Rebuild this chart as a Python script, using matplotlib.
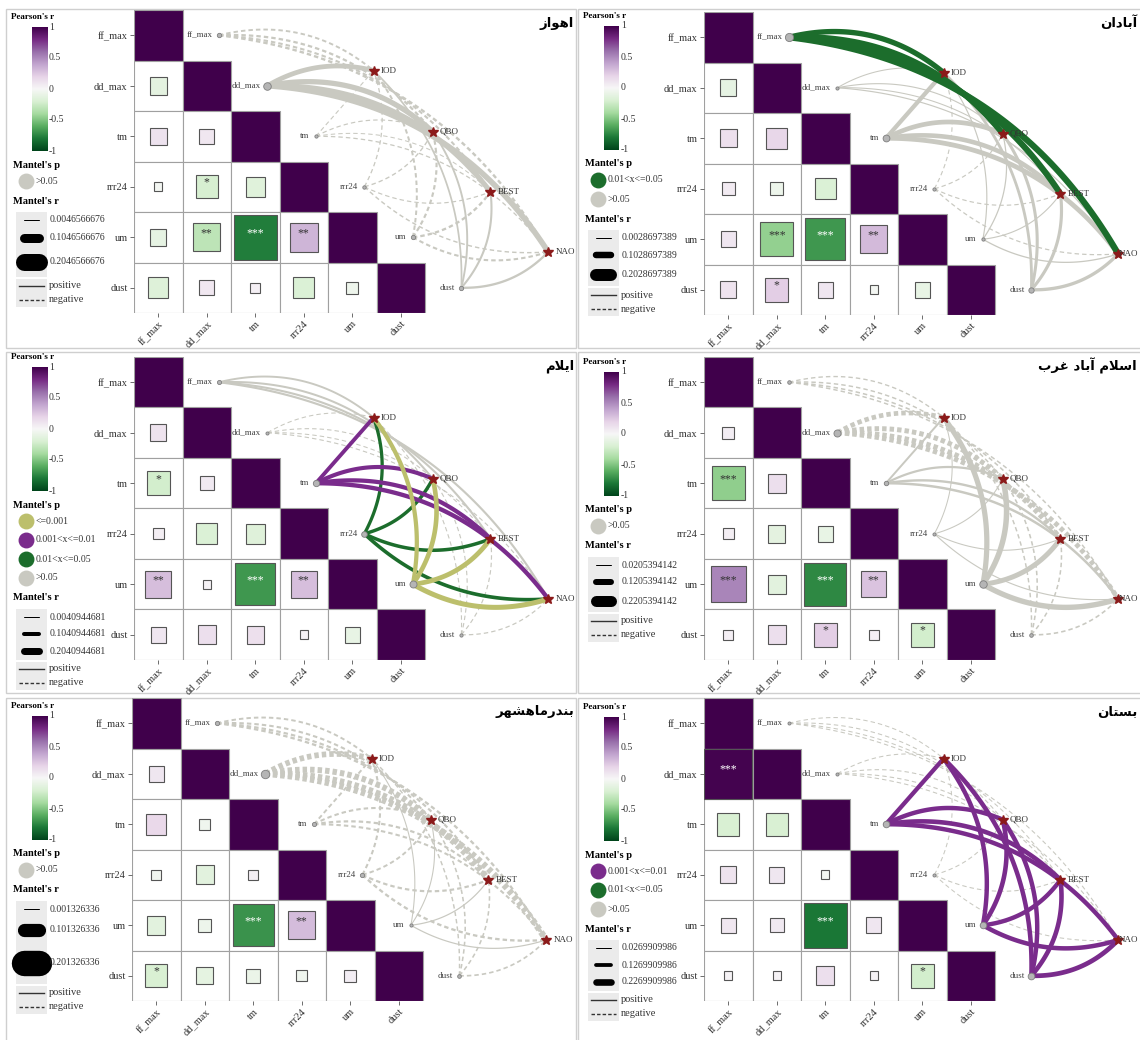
import numpy as np
import matplotlib
matplotlib.use("Agg")
import matplotlib.pyplot as plt
from matplotlib.patches import Rectangle

plt.rcParams["font.family"] = ["Liberation Serif", "DejaVu Sans"]
plt.rcParams["lines.scale_dashes"] = False

FIG_W, FIG_H = 1140, 1040
PT = 0.72  # points per pixel at 100 dpi

ENV = ["ff_max", "dd_max", "tm", "rrr24", "um", "dust"]
INDICES = ["IOD", "QBO", "BEST", "NAO"]
P_LABELS = [">0.05", "0.01<x<=0.05", "0.001<x<=0.01", "<=0.001"]
P_COLORS = ["#c9c9c1", "#1c6d2c", "#7a2c8c", "#bcbf6c"]
CB_TICKS = [1, 0.5, 0, -0.5, -1]

# ---- station data -------------------------------------------------------
# correlation: lower triangle, row by row (dd_max|ff_max, tm|ff_max, tm|dd_max, ...)
AHVAZ_NAME = "اهواز"
AHVAZ_CORR = [-0.13, 0.12, 0.09, -0.03, -0.21, -0.15, -0.11, -0.31, -0.78, 0.33,
              -0.17, 0.09, 0.04, -0.18, -0.06]
AHVAZ_SIG = ["", "", "", "", "*", "", "", "**", "***", "**", "", "", "", "", ""]
AHVAZ_MANTEL_R = [[-0.016, -0.020, -0.018, -0.022],
                  [0.052, 0.058, 0.056, 0.062],
                  [-0.006, -0.007, -0.005, -0.008],
                  [-0.008, -0.009, -0.007, -0.010],
                  [-0.017, -0.019, -0.021, -0.018],
                  [0.014, 0.016, 0.018, 0.021]]
AHVAZ_MANTEL_P = [[0, 0, 0, 0]] * 6
AHVAZ_P_SHOWN = [0]
AHVAZ_R_BREAKS = [0.0046566676, 0.1046566676, 0.2046566676]

ABADAN_NAME = "آبادان"
ABADAN_CORR = [-0.11, 0.13, 0.18, 0.07, -0.07, -0.18, 0.10, -0.45, -0.68, 0.31,
               0.11, 0.22, 0.10, -0.03, -0.10]
ABADAN_SIG = ["", "", "", "", "", "", "", "***", "***", "**", "", "*", "", "", ""]
ABADAN_MANTEL_R = [[0.082, 0.090, 0.095, 0.098],
                   [0.004, 0.005, 0.004, 0.006],
                   [0.062, 0.070, 0.068, 0.072],
                   [-0.005, -0.006, -0.006, -0.007],
                   [0.006, 0.007, 0.005, 0.008],
                   [0.036, 0.040, 0.042, 0.045]]
ABADAN_MANTEL_P = [[1, 1, 1, 1]] + [[0, 0, 0, 0]] * 5
ABADAN_P_SHOWN = [1, 0]
ABADAN_R_BREAKS = [0.0028697389, 0.1028697389, 0.2028697389]

ILAM_NAME = "ایلام"
ILAM_CORR = [0.11, -0.22, 0.08, 0.05, -0.18, -0.16, 0.29, 0.03, -0.68, 0.29,
             0.10, 0.14, 0.13, 0.03, -0.10]
ILAM_SIG = ["", "*", "", "", "", "", "**", "", "***", "**", "", "", "", "", ""]
ILAM_MANTEL_R = [[0.035, 0.038, 0.040, 0.042],
                 [-0.006, -0.007, -0.006, -0.008],
                 [0.100, 0.108, 0.112, 0.115],
                 [0.080, 0.085, 0.088, 0.092],
                 [0.112, 0.125, 0.130, 0.138],
                 [-0.008, -0.009, -0.010, -0.012]]
ILAM_MANTEL_P = [[0, 0, 0, 0], [0, 0, 0, 0], [2, 2, 2, 2],
                 [1, 1, 1, 1], [3, 3, 3, 3], [0, 0, 0, 0]]
ILAM_P_SHOWN = [3, 2, 1, 0]
ILAM_R_BREAKS = [0.0040944681, 0.1040944681, 0.2040944681]

ESLAMABAD_NAME = "اسلام آباد غرب"
ESLAMABAD_CORR = [0.06, -0.46, 0.14, 0.05, -0.13, -0.10, 0.52, -0.14, -0.74, 0.27,
                  0.04, 0.14, 0.22, 0.04, -0.22]
ESLAMABAD_SIG = ["", "***", "", "", "", "", "***", "", "***", "**", "", "", "*", "", "*"]
ESLAMABAD_MANTEL_R = [[-0.028, -0.030, -0.032, -0.030],
                      [-0.095, -0.100, -0.102, -0.098],
                      [0.040, 0.045, 0.048, 0.050],
                      [0.021, 0.022, 0.022, 0.023],
                      [0.105, 0.110, 0.100, 0.108],
                      [-0.030, -0.032, -0.031, -0.033]]
ESLAMABAD_MANTEL_P = [[0, 0, 0, 0]] * 6
ESLAMABAD_P_SHOWN = [0]
ESLAMABAD_R_BREAKS = [0.0205394142, 0.1205394142, 0.2205394142]

MAHSHAHR_NAME = "بندرماهشهر"
MAHSHAHR_CORR = [0.10, 0.17, -0.05, -0.04, -0.14, 0.04, -0.14, -0.07, -0.70, 0.30,
                 -0.20, -0.12, -0.08, -0.05, 0.06]
MAHSHAHR_SIG = ["", "", "", "", "", "", "", "", "***", "**", "*", "", "", "", ""]
MAHSHAHR_MANTEL_R = [[-0.009, -0.010, -0.011, -0.012],
                     [-0.040, -0.042, -0.045, -0.046],
                     [-0.009, -0.010, -0.011, -0.010],
                     [-0.010, -0.009, -0.011, -0.012],
                     [0.002, 0.002, 0.003, 0.003],
                     [-0.005, -0.006, -0.006, -0.007]]
MAHSHAHR_MANTEL_P = [[0, 0, 0, 0]] * 6
MAHSHAHR_P_SHOWN = [0]
MAHSHAHR_R_BREAKS = [0.001326336, 0.101326336, 0.201326336]

BOSTAN_NAME = "بستان"
BOSTAN_CORR = [0.98, -0.20, -0.20, 0.11, 0.10, -0.03, 0.09, 0.08, -0.80, 0.10,
               0.03, 0.03, 0.14, 0.03, -0.22]
BOSTAN_SIG = ["***", "", "", "", "", "", "", "", "***", "", "", "", "", "", "*"]
BOSTAN_MANTEL_R = [[-0.028, -0.029, -0.028, -0.030],
                   [-0.029, -0.030, -0.031, -0.029],
                   [0.145, 0.150, 0.155, 0.150],
                   [-0.028, -0.029, -0.030, -0.028],
                   [0.150, 0.155, 0.148, 0.152],
                   [0.152, 0.150, 0.155, 0.160]]
BOSTAN_MANTEL_P = [[0, 0, 0, 0], [0, 0, 0, 0], [2, 2, 2, 2],
                   [0, 0, 0, 0], [2, 2, 2, 2], [2, 2, 2, 2]]
BOSTAN_P_SHOWN = [2, 1, 0]
BOSTAN_R_BREAKS = [0.0269909986, 0.1269909986, 0.2269909986]

STATIONS = [
    (AHVAZ_NAME, AHVAZ_CORR, AHVAZ_SIG, AHVAZ_MANTEL_R, AHVAZ_MANTEL_P, AHVAZ_P_SHOWN, AHVAZ_R_BREAKS),
    (ABADAN_NAME, ABADAN_CORR, ABADAN_SIG, ABADAN_MANTEL_R, ABADAN_MANTEL_P, ABADAN_P_SHOWN, ABADAN_R_BREAKS),
    (ILAM_NAME, ILAM_CORR, ILAM_SIG, ILAM_MANTEL_R, ILAM_MANTEL_P, ILAM_P_SHOWN, ILAM_R_BREAKS),
    (ESLAMABAD_NAME, ESLAMABAD_CORR, ESLAMABAD_SIG, ESLAMABAD_MANTEL_R, ESLAMABAD_MANTEL_P,
     ESLAMABAD_P_SHOWN, ESLAMABAD_R_BREAKS),
    (MAHSHAHR_NAME, MAHSHAHR_CORR, MAHSHAHR_SIG, MAHSHAHR_MANTEL_R, MAHSHAHR_MANTEL_P,
     MAHSHAHR_P_SHOWN, MAHSHAHR_R_BREAKS),
    (BOSTAN_NAME, BOSTAN_CORR, BOSTAN_SIG, BOSTAN_MANTEL_R, BOSTAN_MANTEL_P, BOSTAN_P_SHOWN, BOSTAN_R_BREAKS),
]

# ---- layout (pixels) ----------------------------------------------------
PANELS = [(6, 9, 570, 339), (578, 9, 570, 339), (6, 352, 570, 341),
          (578, 352, 570, 341), (6, 698, 570, 345), (578, 698, 570, 345)]
GRID_LEFT = [128, 126, 128, 126, 126, 126]
GRID_TOP = [10, 12, 357, 357, 698, 698]
LEGEND_TOP = [8, 7, 5, 10, 8, 9]
WIDTH_SLOPE = [80, 55, 30, 50, 122, 28]   # px of line width per unit Mantel's r
CW, CH = 48.5, 50.5
IDX_X = [4.94, 6.16, 7.35, 8.54]
IDX_Y = [1.2, 2.41, 3.6, 4.79]

cmap = plt.get_cmap("PRGn_r")

# simple Arabic-script shaping (presentation forms, right-to-left)
FORMS = {
    "ا": ("ﺍ", "ﺎ", None, None), "آ": ("ﺁ", "ﺂ", None, None),
    "ب": ("ﺏ", "ﺐ", "ﺑ", "ﺒ"), "ت": ("ﺕ", "ﺖ", "ﺗ", "ﺘ"),
    "د": ("ﺩ", "ﺪ", None, None), "ر": ("ﺭ", "ﺮ", None, None),
    "ز": ("ﺯ", "ﺰ", None, None), "س": ("ﺱ", "ﺲ", "ﺳ", "ﺴ"),
    "ش": ("ﺵ", "ﺶ", "ﺷ", "ﺸ"), "غ": ("ﻍ", "ﻎ", "ﻏ", "ﻐ"),
    "ل": ("ﻝ", "ﻞ", "ﻟ", "ﻠ"), "م": ("ﻡ", "ﻢ", "ﻣ", "ﻤ"),
    "ن": ("ﻥ", "ﻦ", "ﻧ", "ﻨ"), "ه": ("ﻩ", "ﻪ", "ﻫ", "ﻬ"),
    "و": ("ﻭ", "ﻮ", None, None),
    "\u06cc": ("ﻯ", "ﻰ", "ﻳ", "ﻴ"), "\u064a": ("ﻱ", "ﻲ", "ﻳ", "ﻴ"),
    "لا": ("ﻻ", "ﻼ", None, None),
}


def shape_rtl(text):
    chars, i = [], 0
    while i < len(text):
        if text[i] == "ل" and i + 1 < len(text) and text[i + 1] == "ا":
            chars.append("لا")
            i += 2
        else:
            chars.append(text[i])
            i += 1
    out = []
    for k, c in enumerate(chars):
        f = FORMS.get(c)
        if f is None:
            out.append(c)
            continue
        prev = FORMS.get(chars[k - 1]) if k > 0 else None
        nxt = FORMS.get(chars[k + 1]) if k + 1 < len(chars) else None
        jp = prev is not None and prev[2] is not None
        jn = nxt is not None and f[2] is not None
        out.append(f[3] if (jp and jn) else f[1] if jp else f[2] if jn else f[0])
    return "".join(reversed(out))


def frac(x, y, w, h):
    return [x / FIG_W, 1 - (y + h) / FIG_H, w / FIG_W, h / FIG_H]


def width_px(r, breaks, slope):
    return max(0.8, 1 + slope * (abs(r) - breaks[0]))


def draw_matrix(ax, corr, sig):
    k = 0
    for i in range(6):
        for j in range(i + 1):
            fc = cmap(1.0) if i == j else "white"
            ax.add_patch(Rectangle((j, i), 1, 1, fc=fc, ec="#a0a0a0", lw=0.8, zorder=1))
    for i in range(1, 6):
        for j in range(i):
            r, s = corr[k], sig[k]
            k += 1
            side = np.sqrt(abs(r))
            ax.add_patch(Rectangle((j + 0.5 - side / 2, i + 0.5 - side / 2), side, side,
                                   fc=cmap((r + 1) / 2), ec="#555555", lw=0.8, zorder=2))
            if s:
                ax.text(j + 0.5, i + 0.42, s, ha="center", va="center", fontsize=8.5,
                        color="white" if abs(r) > 0.6 else "#333333", zorder=3)
    ax.set_xticks(np.arange(6) + 0.5)
    ax.set_yticks(np.arange(6) + 0.5)
    ax.set_xticklabels(ENV, rotation=45, ha="right", rotation_mode="anchor")
    ax.set_yticklabels(ENV)
    ax.tick_params(length=3, width=0.6, color="#555555", labelsize=7.5, pad=1.5,
                   labelcolor="#333333")


def draw_network(ax, mr, mp, breaks, slope, right_limit):
    env_xy = [(i + 1.75, i + 0.5) for i in range(6)]
    idx_xy = list(zip(IDX_X, IDX_Y))
    order = sorted((mp[i][j], i, j) for i in range(6) for j in range(4))
    node_w = [0.0] * 6
    t = np.linspace(0, 1, 80)[:, None]
    for cat, i, j in order:
        r = mr[i][j]
        w = width_px(r, breaks, slope)
        node_w[i] = max(node_w[i], w)
        p0 = np.array([env_xy[i][0] * CW, env_xy[i][1] * CH])
        p1 = np.array([idx_xy[j][0] * CW, idx_xy[j][1] * CH])
        d = p1 - p0
        if i <= 2:
            # upper nodes bend over the top; steep upward links stay nearly straight
            up = np.degrees(np.arctan2(-d[1], d[0]))
            bend = 0.125 * np.clip(1 - up / 45, 0, 1)
            normal = np.array([d[1], -d[0]])
        else:
            bend = 0.11
            normal = np.array([-d[1], d[0]])
        ctrl = (p0 + p1) / 2 + normal * 2 * bend
        pts = (1 - t) ** 2 * p0 + 2 * t * (1 - t) * ctrl + t ** 2 * p1
        ls = "-" if r >= 0 else (0, (3.2, 2.2))
        ax.plot(pts[:, 0] / CW, pts[:, 1] / CH, color=P_COLORS[cat], lw=w * PT, ls=ls,
                solid_capstyle="round", dash_capstyle="butt", zorder=3 + cat * 0.1,
                clip_on=False)
    for i, (x, y) in enumerate(env_xy):
        ax.plot(x, y, "o", ms=(node_w[i] + 2) * PT, mfc="#b5b5b5", mec="#7f7f7f",
                mew=0.6, zorder=5, clip_on=False)
        ax.text(x - 0.13, y, ENV[i], ha="right", va="center", fontsize=6.5,
                color="#444444", zorder=6)
    for j, (x, y) in enumerate(idx_xy):
        ax.plot(x, y, "*", ms=7.5, color="#8b1a1a", zorder=6, clip_on=False)
        ax.text(min(x + 0.15, right_limit), y, INDICES[j], ha="left", va="center",
                fontsize=6.5, color="#333333", zorder=6)


def draw_legend(lay, fig, px, py, top, p_shown, breaks, slope):
    y = py + top
    lay.text(px + 5, y, "Pearson's r", fontsize=6.5, fontweight="bold", va="center")
    cb_top = y + 10
    cax = fig.add_axes(frac(px + 26, cb_top, 15, 124))
    cax.imshow(np.linspace(1, -1, 256)[:, None], cmap=cmap, vmin=-1, vmax=1,
               aspect="auto", extent=(0, 1, -1, 1))
    cax.axis("off")
    for v in CB_TICKS:
        ty = cb_top + (1 - v) / 2 * 124
        lay.plot([px + 26, px + 29], [ty, ty], color="white", lw=0.7, zorder=5)
        lay.plot([px + 38, px + 41], [ty, ty], color="white", lw=0.7, zorder=5)
        lay.text(px + 43, ty, f"{v:g}", fontsize=7, va="center", color="#333333")

    y = cb_top + 124 + 14
    lay.text(px + 7, y, "Mantel's p", fontsize=7.5, fontweight="bold", va="center")
    y += 16
    for c in p_shown:
        lay.scatter(px + 20, y, s=(14.5 * PT) ** 2, color=P_COLORS[c], zorder=4)
        lay.text(px + 30, y, P_LABELS[c], fontsize=7, va="center", color="#333333")
        y += 19
    y += 1
    lay.text(px + 7, y, "Mantel's r", fontsize=7.5, fontweight="bold", va="center")

    heights = [width_px(b, breaks, slope) for b in breaks]
    boxes = [max(17, 1.4 * h + 6) for h in heights]
    centers = [y + 19]
    for k in range(1, 3):
        centers.append(centers[-1] + (boxes[k - 1] + boxes[k]) / 2)
    lay.add_patch(Rectangle((px + 10, centers[0] - boxes[0] / 2), 31,
                            centers[2] + boxes[2] / 2 - (centers[0] - boxes[0] / 2),
                            fc="#ebebeb", ec="none", zorder=1))
    for b, h, cy in zip(breaks, heights, centers):
        lay.plot([px + 18, px + 33], [cy, cy], color="black", lw=h * PT,
                 solid_capstyle="round", zorder=3)
        lay.text(px + 44, cy, f"{b:.10g}", fontsize=7, va="center", color="#333333")

    y = centers[2] + boxes[2] / 2 + 9
    lay.add_patch(Rectangle((px + 10, y - 7), 31, 28, fc="#ebebeb", ec="none", zorder=1))
    lay.plot([px + 13, px + 38], [y, y], color="#333333", lw=1.0, zorder=3)
    lay.text(px + 43, y, "positive", fontsize=7.5, va="center", color="#333333")
    lay.plot([px + 13, px + 38], [y + 14, y + 14], color="#333333", lw=1.0,
             ls=(0, (2.5, 1.5)), zorder=3)
    lay.text(px + 43, y + 14, "negative", fontsize=7.5, va="center", color="#333333")


fig = plt.figure(figsize=(FIG_W / 100, FIG_H / 100), dpi=100)
lay = fig.add_axes([0, 0, 1, 1])
lay.set_xlim(0, FIG_W)
lay.set_ylim(FIG_H, 0)
lay.axis("off")

for n, (name, corr, sig, mr, mp, p_shown, breaks) in enumerate(STATIONS):
    px, py, pw, ph = PANELS[n]
    lay.add_patch(Rectangle((px, py), pw, ph, fc="none", ec="#cfcfcf", lw=1.0))
    lay.text(min(px + 568, FIG_W - 3), py + 14, shape_rtl(name), ha="right", va="center",
             fontsize=9.5, fontweight="bold", family=["DejaVu Sans"])

    gx = px + GRID_LEFT[n]
    ax = fig.add_axes(frac(gx, GRID_TOP[n], 10 * CW, 6 * CH))
    ax.set_xlim(0, 10)
    ax.set_ylim(6, 0)
    ax.patch.set_alpha(0)
    for sp in ax.spines.values():
        sp.set_visible(False)
    draw_matrix(ax, corr, sig)
    right_limit = (FIG_W - 21 - gx) / CW
    draw_network(ax, mr, mp, breaks, WIDTH_SLOPE[n], right_limit)
    draw_legend(lay, fig, px, py, LEGEND_TOP[n], p_shown, breaks, WIDTH_SLOPE[n])

fig.savefig("out.png", dpi=100)
